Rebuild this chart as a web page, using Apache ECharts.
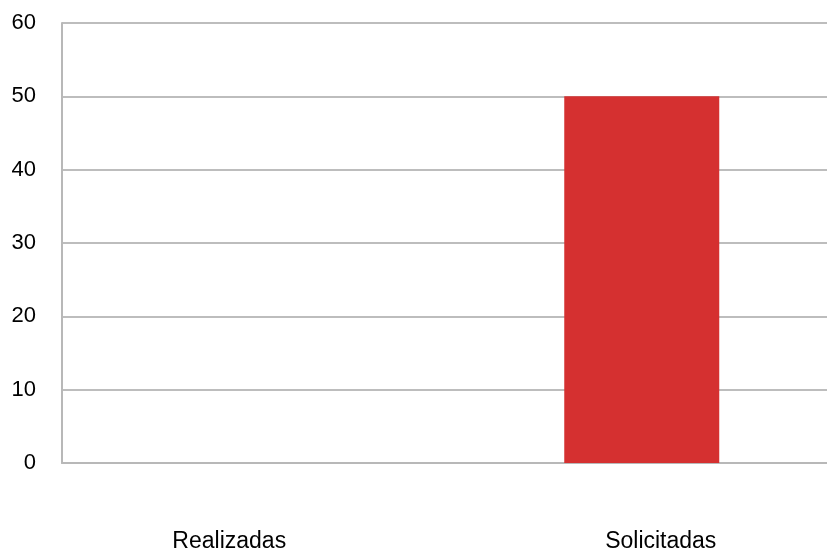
<!DOCTYPE html>
<html>
<head>
<meta charset="utf-8">
<script src="https://cdn.jsdelivr.net/npm/echarts@6/dist/echarts.min.js"></script>
<style>
  html, body { margin: 0; padding: 0; background: #fff; }
  #chart { width: 827px; height: 555px; }
</style>
</head>
<body>
<div id="chart"></div>
<script>
const categories = ["Realizadas", "Solicitadas"];
const values = [0, 50];
const yTicks = { min: 0, max: 60, interval: 10 };

const chart = echarts.init(document.getElementById("chart"));
const font = "'Liberation Sans', Arial, sans-serif";

// plot area runs a little past the right edge of the picture, as in the original
chart.setOption({
  animation: false,
  grid: {
    left: 62, width: 773, top: 23, bottom: 92,
    containLabel: false, outerBoundsMode: "none",
  },
  xAxis: {
    type: "category",
    data: categories,
    axisLine: { lineStyle: { color: "#b8b8b8", width: 2 } },
    axisTick: { show: false },
    axisLabel: {
      margin: 67,
      formatter: (v, i) => `{c${i}|${v}}`,
      rich: {
        c0: { fontFamily: font, fontSize: 23, color: "#000", padding: [0, 52, 0, 0] },
        c1: { fontFamily: font, fontSize: 23, color: "#000", padding: [0, 0, 0, 38] },
      },
    },
  },
  yAxis: {
    type: "value",
    min: yTicks.min,
    max: yTicks.max,
    interval: yTicks.interval,
    axisLine: { show: true, lineStyle: { color: "#b8b8b8", width: 2 } },
    axisTick: { show: false },
    axisLabel: { margin: 26, fontFamily: font, fontSize: 22, color: "#000" },
    splitLine: { lineStyle: { color: "#bdbdbd", width: 2 } },
  },
  series: [
    {
      type: "bar",
      data: values,
      barWidth: 155,
      itemStyle: { color: "#D53030" },
    },
  ],
});
</script>
</body>
</html>
